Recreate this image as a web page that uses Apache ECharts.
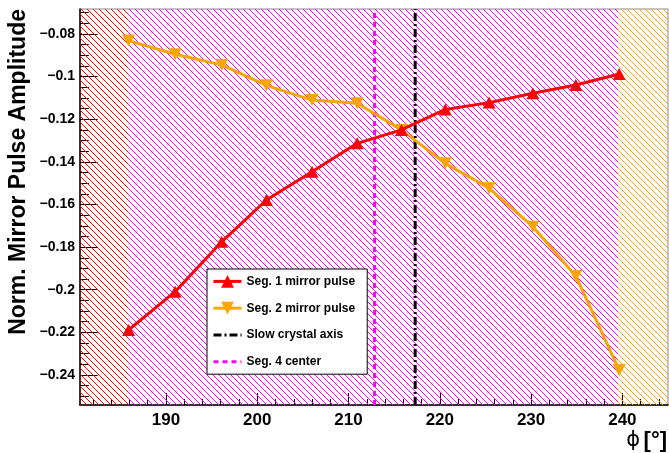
<!DOCTYPE html>
<html><head><meta charset="utf-8">
<script src="https://cdn.jsdelivr.net/npm/echarts@6/dist/echarts.min.js"></script>
<style>html,body{margin:0;padding:0;background:#fff}#c{width:669px;height:453px}</style>
</head><body><div id="c"></div>
<script>
// ---- data ----
const phi  = [185.9, 191.0, 196.1, 201.0, 206.0, 210.95, 215.8, 220.6, 225.4, 230.2, 234.9, 239.65];
const seg1 = [-0.2189, -0.2009, -0.1775, -0.1579, -0.1446, -0.1313, -0.1250, -0.1154, -0.1122, -0.1078, -0.1039, -0.0988];
const seg2 = [-0.0831, -0.0895, -0.0945, -0.1041, -0.1110, -0.1125, -0.1250, -0.1407, -0.1524, -0.1704, -0.1936, -0.2377];
const slowAxisPhi = 217.3;
const seg4CenterPhi = 212.85;
const regionEdges = [180.58, 185.85, 239.55, 245.0];
const regionColors = ['#ff0000', '#ff00ff', '#ffa500'];
const xRange = [180.58, 245.0];
const yRange = [-0.25408, -0.06827];
const xMajorTicks = [190, 200, 210, 220, 230, 240];
const yMajorTicks = [-0.24, -0.22, -0.2, -0.18, -0.16, -0.14, -0.12, -0.1, -0.08];
const xMinorTicks = [182, 184, 186, 188, 192, 194, 196, 198, 202, 204, 206, 208, 212, 214, 216, 218, 222, 224, 226, 228, 232, 234, 236, 238, 242, 244];
const yMinorTicks = [];
for (let k = -50; k <= -14; k++) { if (k % 4 !== 0) yMinorTicks.push(+(k * 0.005).toFixed(3)); }
const legendNames = ['Seg. 1 mirror pulse', 'Seg. 2 mirror pulse', 'Slow crystal axis', 'Seg. 4 center'];

function hatch(color, p) {
  const c = document.createElement('canvas'); c.width = p; c.height = p;
  const g = c.getContext('2d'); g.fillStyle = color;
  for (let i = 0; i < p; i++) g.fillRect(i, i, 1, 1);
  return { image: c, repeat: 'repeat' };
}

const FONT = 'Liberation Sans, Arial, sans-serif';
const chart = echarts.init(document.getElementById('c'), null, { renderer: 'canvas' });

const axisCommon = (range) => ({ type: 'value', min: range[0], max: range[1], splitLine: { show: false } });

chart.setOption({
  animation: false,
  backgroundColor: '#fff',
  grid: { left: 80, top: 9, width: 588, height: 396, show: true, borderColor: '#888', borderWidth: 1, backgroundColor: 'transparent' },
  xAxis: [
    Object.assign(axisCommon(xRange), {
      position: 'bottom',
      axisLine: { show: true, onZero: false, lineStyle: { color: '#000', width: 1.5 } },
      axisTick: { show: true, inside: true, length: 12, customValues: xMajorTicks, lineStyle: { color: '#000', width: 1 } },
      axisLabel: { customValues: xMajorTicks, margin: 7, fontSize: 17, fontWeight: 'bold', fontFamily: FONT, color: '#000' }
    }),
    Object.assign(axisCommon(xRange), {
      position: 'bottom',
      axisLine: { show: false, onZero: false },
      axisTick: { show: true, inside: true, length: 6, customValues: xMinorTicks, lineStyle: { color: '#000', width: 1 } },
      axisLabel: { show: false }
    })
  ],
  yAxis: [
    Object.assign(axisCommon(yRange), {
      position: 'left',
      axisLine: { show: true, onZero: false, lineStyle: { color: '#000', width: 1.5 } },
      axisTick: { show: true, inside: true, length: 17.6, customValues: yMajorTicks, lineStyle: { color: '#000', width: 1 } },
      axisLabel: { customValues: yMajorTicks, margin: 5, fontSize: 14, fontWeight: 'bold', fontFamily: FONT, color: '#000',
        formatter: v => String(v).replace('-', '\u2212') }
    }),
    Object.assign(axisCommon(yRange), {
      position: 'left',
      axisLine: { show: false, onZero: false },
      axisTick: { show: true, inside: true, length: 8.8, customValues: yMinorTicks, lineStyle: { color: '#000', width: 1 } },
      axisLabel: { show: false }
    })
  ],
  legend: {
    data: [
      { name: legendNames[0] },
      { name: legendNames[1] },
      { name: legendNames[2], itemStyle: { opacity: 0 } },
      { name: legendNames[3], itemStyle: { opacity: 0 } }
    ],
    orient: 'vertical', left: 207, top: 269,
    itemWidth: 28, itemHeight: 16, itemGap: 14,
    padding: [6, 12, 6, 5],
    backgroundColor: '#fff', borderColor: '#000', borderWidth: 1, borderRadius: 0,
    lineStyle: { width: 'inherit' },
    textStyle: { fontFamily: FONT, fontWeight: 'bold', fontSize: 12, color: '#000' }
  },
  graphic: [
    { type: 'text', x: 18.5, y: 9, rotation: Math.PI / 2, z: 100,
      style: { text: 'Norm. Mirror Pulse Amplitude', font: 'bold 23px ' + FONT, fill: '#000', textAlign: 'right', textVerticalAlign: 'middle' } },
    { type: 'text', x: 667, y: 441, z: 100,
      style: { text: '{a|\u03D5} {b|[\u00B0]}', textAlign: 'right', textVerticalAlign: 'middle',
        rich: { a: { fontFamily: 'DejaVu Sans', fontSize: 21, fill: '#000', color: '#000' },
                b: { fontFamily: FONT, fontWeight: 'bold', fontSize: 22, color: '#000' } } } }
  ],
  series: [
    { type: 'line', name: 'regions', data: [], silent: true, z: 1,
      markArea: { silent: true, data: regionColors.map((col, i) => [
        { xAxis: regionEdges[i], itemStyle: { color: hatch(col, 6), borderWidth: 0 } },
        { xAxis: regionEdges[i + 1] }
      ]) } },
    { type: 'line', name: legendNames[3], data: [[seg4CenterPhi, yRange[0]], [seg4CenterPhi, yRange[1]]],
      symbol: 'none', z: 3, lineStyle: { color: '#ff00ff', width: 3, type: [5, 4] }, itemStyle: { color: '#ff00ff' } },
    { type: 'line', name: legendNames[2], data: [[slowAxisPhi, yRange[0]], [slowAxisPhi, yRange[1]]],
      symbol: 'none', z: 3, lineStyle: { color: '#000', width: 3, type: [8, 3, 2, 3] }, itemStyle: { color: '#000' } },
    { type: 'line', name: legendNames[1], data: phi.map((p, i) => [p, seg2[i]]), z: 4,
      symbol: 'triangle', symbolRotate: 180, symbolSize: [13, 12],
      lineStyle: { color: '#ffa500', width: 3 }, itemStyle: { color: '#ffa500' } },
    { type: 'line', name: legendNames[0], data: phi.map((p, i) => [p, seg1[i]]), z: 5,
      symbol: 'triangle', symbolSize: [13, 12],
      lineStyle: { color: '#ff0000', width: 3 }, itemStyle: { color: '#ff0000' } }
  ]
});
</script>
</body></html>
